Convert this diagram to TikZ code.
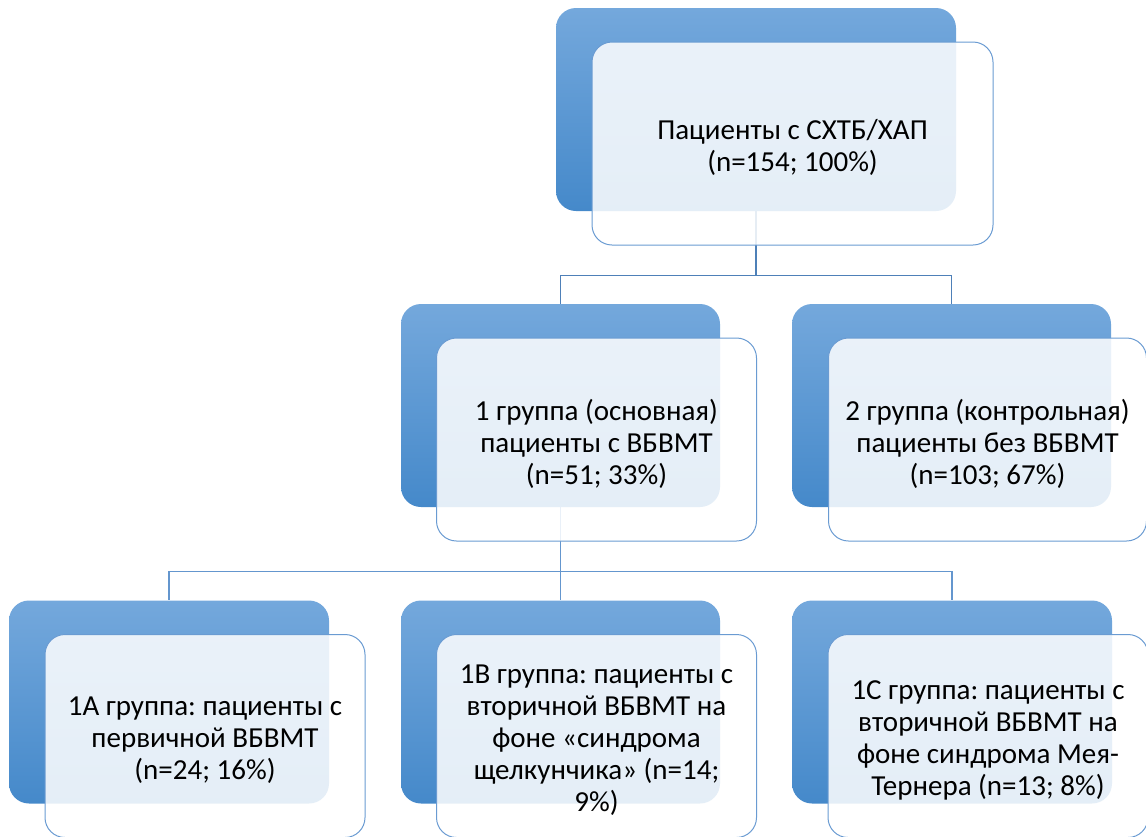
\documentclass[tikz,border=0pt]{standalone}
\usepackage{fontspec}
\setmainfont{Carlito}
\frenchspacing
\pgfdeclarelayer{bg}
\pgfsetlayers{bg,main}
\definecolor{backtop}{HTML}{74A8DC}
\definecolor{backbot}{HTML}{4589CA}
\definecolor{frontline}{HTML}{6A9BD2}
\definecolor{connA}{HTML}{4E80B8}
\definecolor{connB}{HTML}{6496CE}
\tikzset{
  backbox/.style={rectangle, rounded corners=20pt, inner sep=0pt, top color=backtop, bottom color=backbot, draw=none},
  frontbox/.style={rectangle, rounded corners=20pt, inner sep=0pt, draw=frontline, line width=1pt, fill=white, fill opacity=0.86},
  boxtext/.style={align=center, inner sep=0pt, text=black, font=\fontsize{29}{32}\selectfont},
  conn/.style={line width=1.4pt},
}
\begin{document}
\begin{tikzpicture}[x=1pt,y=-1pt]
\useasboundingbox (0,0) rectangle (1146,836);
% back boxes
\node[backbox, minimum width=400pt, minimum height=203pt] (b0) at (756,109.5) {};
\node[backbox, minimum width=319pt, minimum height=203pt] (b1) at (560.5,405.5) {};
\node[backbox, minimum width=319pt, minimum height=203pt] (b2) at (951.5,405.5) {};
\node[backbox, minimum width=320pt, minimum height=203pt] (b3) at (169,702) {};
\node[backbox, minimum width=319pt, minimum height=203pt] (b4) at (560.5,702) {};
\node[backbox, minimum width=320pt, minimum height=203pt] (b5) at (952,702) {};
% front boxes
\node[frontbox, minimum width=401pt, minimum height=203pt] (f0) at (792.5,143.5) {};
\node[frontbox, minimum width=320pt, minimum height=203pt] (f1) at (596.5,439.5) {};
\node[frontbox, minimum width=318pt, minimum height=203pt] (f2) at (987.5,439.5) {};
\node[frontbox, minimum width=320pt, minimum height=203pt] (f3) at (205,736) {};
\node[frontbox, minimum width=320pt, minimum height=203pt] (f4) at (596.5,736) {};
\node[frontbox, minimum width=320pt, minimum height=203pt] (f5) at (988,736) {};
% texts
\node[boxtext] (t0) at ([yshift=-4pt]f0.center) {Пациенты с СХТБ/ХАП\\(n=154; 100\%)};
\node[boxtext] (t1) at ([yshift=-4pt]f1.center) {1 группа (основная)\\пациенты с ВБВМТ\\(n=51; 33\%)};
\node[boxtext] (t2) at ([yshift=-4pt]f2.center) {2 группа (контрольная)\\пациенты без ВБВМТ\\(n=103; 67\%)};
\node[boxtext] (t3) at ([yshift=-4pt]f3.center) {1А группа: пациенты с\\первичной ВБВМТ\\(n=24; 16\%)};
\node[boxtext] (t4) at ([yshift=-4pt]f4.center) {1В группа: пациенты с\\вторичной ВБВМТ на\\фоне «синдрома\\щелкунчика» (n=14;\\9\%)};
\node[boxtext] (t5) at ([yshift=-4pt]f5.center) {1С группа: пациенты с\\вторичной ВБВМТ на\\фоне синдрома Мея-\\Тернера (n=13; 8\%)};
% connectors
\begin{pgfonlayer}{bg}
\draw[conn, connA] (b0.south) -- ++(0,64) -| (b1.north);
\draw[conn, connA] (b0.south) -- ++(0,64) -| (b2.north);
\draw[conn, connB] (b1.south) -- ++(0,64) -| (b3.north);
\draw[conn, connB] (b1.south) -- (b4.north);
\draw[conn, connB] (b1.south) -- ++(0,64) -| (b5.north);
\end{pgfonlayer}
\end{tikzpicture}
\end{document}
